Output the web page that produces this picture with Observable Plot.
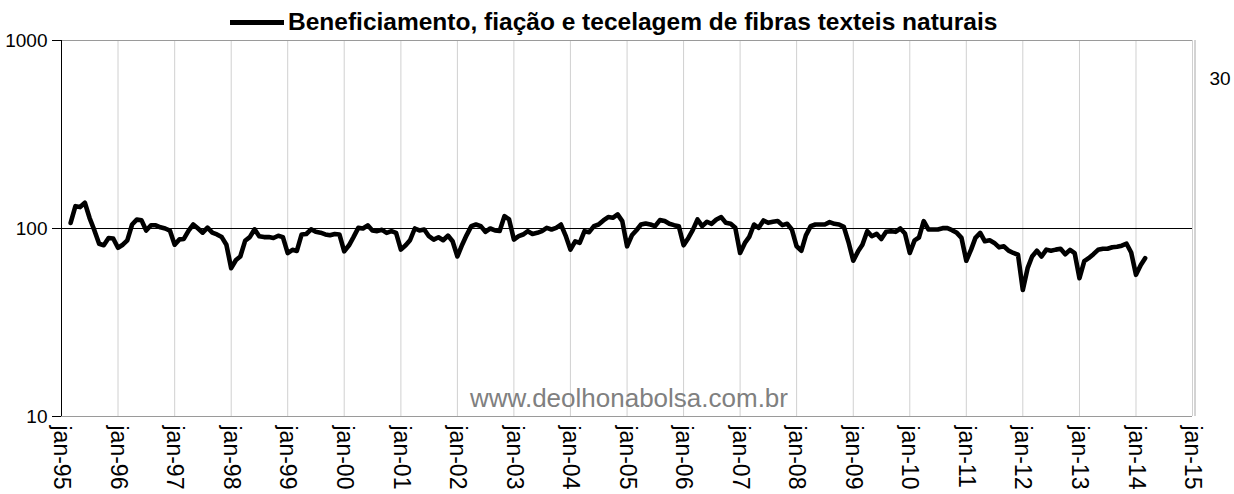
<!DOCTYPE html>
<html><head><meta charset="utf-8">
<script src="https://cdn.jsdelivr.net/npm/d3@7"></script>
<script src="https://cdn.jsdelivr.net/npm/@observablehq/plot@0.6"></script>
<style>
body{margin:0;background:#fff;font-family:"Liberation Sans",Arial,sans-serif;}
#wrap{position:relative;width:1234px;height:494px;}
#title{position:absolute;left:230px;top:8px;display:flex;align-items:center;white-space:nowrap;font-weight:bold;font-size:24.5px;color:#000;line-height:28px;}
#title .swatch{display:inline-block;width:54px;height:5px;background:#000;margin-right:4px;}
#chart{position:absolute;left:0;top:0;}
</style></head><body>
<div id="wrap"><div id="chart"></div><div id="title"><span class="swatch"></span><span id="titletext"></span></div></div>
<script>
const seriesName = "Beneficiamento, fiação e tecelagem de fibras texteis naturais";
const watermark = "www.deolhonabolsa.com.br";
const rightNote = "30";
const firstMonth = "1995-03-01";
const values = [
  107, 131.5, 130, 137, 114, 98, 83, 81.5, 89, 88.5,
  79, 82, 86.5, 105, 111.5, 110.5, 97.5, 104, 104, 101.5, 100, 97.5,
  82, 87.5, 88, 97.5, 105, 100, 95, 101, 95, 93, 90, 82,
  61.5, 68, 71, 86, 90, 99, 91, 90, 90, 89, 91.5, 90,
  74, 77, 76, 93, 93.5, 99, 96, 95, 93, 92, 93.5, 93,
  75.6, 81.4, 90, 100.8, 100, 104, 97.6, 96.8, 98.4, 94.8, 96.8, 94.8,
  77.2, 81.4, 86.6, 100, 97.6, 98.8, 91, 87.3, 89.8, 86.6, 91.7, 85.5,
  71, 82, 92, 102.9, 105, 102.9, 96, 100, 97.6, 97, 116.4, 111.7,
  87.3, 91, 92.9, 96.8, 93.6, 94.8, 96.8, 100.8, 98.8, 100.8, 105, 91.7,
  77.2, 85.5, 83.8, 96.8, 95.6, 102.9, 105, 110.4, 115, 114, 118.9, 109.5,
  80.4, 92, 97.6, 105, 106.4, 105, 102.9, 110.8, 109.5, 105.9, 104.2, 102.9,
  81.4, 89.1, 98, 111.7, 102.9, 108.6, 105.9, 111.7, 115, 107.2, 105.9, 100.8,
  74.1, 83.8, 90.2, 105, 100.8, 110.4, 107.2, 108.6, 109.5, 104.2, 105.9, 98.8,
  80.4, 76.2, 92, 102.9, 105, 105, 105, 108.1, 105.9, 105, 102, 84.8,
  67.4, 75.6, 82, 96.8, 91, 93.6, 88, 96, 96.8, 96, 100, 94,
  74.1, 86.5, 89.5, 109.5, 98.8, 98.8, 98.8, 100.4, 100.4, 98, 94.8, 89.1,
  67.4, 77.2, 89.1, 94.8, 85.5, 86.6, 83.8, 79.4, 80.4, 76.2, 74.1, 72.5,
  47.1, 61.5, 71, 76.2, 71, 77.2, 76.2, 77.2, 78, 73, 77, 74,
  54.4, 67, 69.5, 73, 77, 78, 78, 79.5, 80, 81, 83, 74.5,
  56.7, 64, 69.5
];
const yTicks = [10, 100, 1000];
const tickYears = [1995, 1996, 1997, 1998, 1999, 2000, 2001, 2002, 2003, 2004, 2005,
  2006, 2007, 2008, 2009, 2010, 2011, 2012, 2013, 2014, 2015];
const tickLabels = ["jan-95","jan-96","jan-97","jan-98","jan-99","jan-00","jan-01","jan-02","jan-03","jan-04","jan-05",
  "jan-06","jan-07","jan-08","jan-09","jan-10","jan-11","jan-12","jan-13","jan-14","jan-15"];
const referenceLevel = [100];

document.getElementById("titletext").textContent = seriesName;

const start = new Date(firstMonth + "T00:00:00Z");
const data = values.map((v, i) => ({date: d3.utcMonth.offset(start, i), value: v}));
const tickDates = tickYears.map(y => new Date(Date.UTC(y, 0, 1)));
const labelOf = new Map(tickDates.map((d, i) => [+d, tickLabels[i]]));

const chart = Plot.plot({
  width: 1234, height: 494,
  marginTop: 40, marginBottom: 78, marginLeft: 61, marginRight: 42,
  style: {fontFamily: '"Liberation Sans", Arial, sans-serif', fontSize: "19px", color: "#000", background: "#fff"},
  x: {type: "utc", domain: [tickDates[0], tickDates[tickDates.length - 1]], label: null},
  y: {type: "log", domain: [yTicks[0], yTicks[yTicks.length - 1]], label: null},
  marks: [
    Plot.gridX(tickDates, {stroke: "#d0d0d0", strokeOpacity: 1}),
    Plot.ruleY([yTicks[yTicks.length - 1]], {stroke: "#9a9a9a"}),
    Plot.ruleY([yTicks[0]], {stroke: "#9a9a9a"}),
    Plot.ruleX([tickDates[tickDates.length - 1]], {stroke: "#a8a8a8", dx: 2.5}),
    Plot.ruleX([tickDates[0]], {stroke: "#000"}),
    Plot.ruleY(referenceLevel, {stroke: "#000", strokeWidth: 1}),
    Plot.lineY(data, {x: "date", y: "value", stroke: "#000", strokeWidth: 4.6, strokeLinejoin: "round", strokeLinecap: "round"}),
    Plot.axisY(yTicks, {tickSize: 9, tickPadding: 5, tickFormat: d => String(d), fontSize: 19, stroke: "#000", label: null}),
    Plot.axisX(tickDates, {tickSize: 0, tickPadding: 9, tickRotate: 90, tickFormat: d => labelOf.get(+d), fontSize: 23, label: null}),
    Plot.text([watermark], {frameAnchor: "bottom", dx: 2, dy: -10, lineAnchor: "bottom", fontSize: 26, fill: "#808080"}),
    Plot.text([rightNote], {frameAnchor: "top-right", textAnchor: "start", dx: 17, dy: 44, lineAnchor: "bottom", fontSize: 19, fill: "#000"})
  ]
});
document.getElementById("chart").appendChild(chart);
</script>
</body></html>
